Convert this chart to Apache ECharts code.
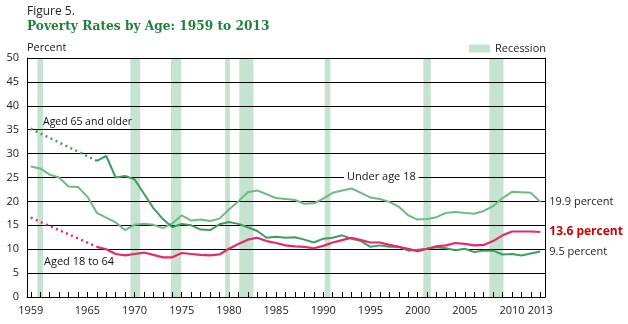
<!DOCTYPE html>
<html>
<head>
<meta charset="utf-8">
<script src="https://cdn.jsdelivr.net/npm/echarts@6/dist/echarts.min.js"></script>
<style>
  html, body { margin: 0; padding: 0; background: #fff; }
  #chart { width: 628px; height: 324px; }
</style>
</head>
<body>
<div id="chart"></div>
<script>
// Poverty rates by age group, percent
const years = [];
for (let y = 1959; y <= 2013; y++) years.push(y);

const under18 = [27.3, 26.9, 25.6, 25.0, 23.1, 23.0, 21.0, 17.6, 16.6, 15.6,
  14.0, 15.1, 15.3, 15.1, 14.4, 15.4, 17.1, 16.0, 16.2, 15.9,
  16.4, 18.3, 20.0, 21.9, 22.3, 21.5, 20.7, 20.5, 20.3, 19.5,
  19.6, 20.6, 21.8, 22.3, 22.7, 21.8, 20.8, 20.5, 19.9, 18.9,
  17.1, 16.2, 16.3, 16.7, 17.6, 17.8, 17.6, 17.4, 18.0, 19.0,
  20.7, 22.0, 21.9, 21.8, 19.9];

// Aged 65 and older: annual values from 1966, dotted estimate before
const over65Years = years.slice(7);
const over65 = [28.5, 29.5, 25.0, 25.3, 24.6, 21.6, 18.6, 16.3, 14.6, 15.3,
  15.0, 14.1, 14.0, 15.2, 15.7, 15.3, 14.6, 13.8, 12.4, 12.6,
  12.4, 12.5, 12.0, 11.4, 12.2, 12.4, 12.9, 12.2, 11.7, 10.5,
  10.8, 10.5, 10.5, 9.7, 9.9, 10.1, 10.4, 10.2, 9.8, 10.1,
  9.4, 9.7, 9.7, 8.9, 9.0, 8.7, 9.1, 9.5];
const over65Early = [[1959, 35.2], [1966, 28.5]];

// Aged 18 to 64: annual values from 1966, dotted estimate before
const age18to64Years = years.slice(7);
const age18to64 = [10.5, 10.0, 9.0, 8.7, 9.0, 9.3, 8.8, 8.3, 8.3, 9.2,
  9.0, 8.8, 8.7, 8.9, 10.1, 11.1, 12.0, 12.4, 11.7, 11.3,
  10.8, 10.6, 10.5, 10.2, 10.7, 11.4, 11.9, 12.4, 11.9, 11.4,
  11.4, 10.9, 10.5, 10.1, 9.6, 10.1, 10.6, 10.8, 11.3, 11.1,
  10.8, 10.9, 11.7, 12.9, 13.7, 13.7, 13.7, 13.6];
const age18to64Early = [[1959, 16.6], [1966, 10.5]];

// Recession periods (start, end) in fractional years
const recessions = [
  [1959.7, 1960.3], [1969.55, 1970.6], [1973.85, 1974.95], [1979.6, 1980.1],
  [1981.1, 1982.6], [1990.15, 1990.75], [2000.6, 2001.4], [2007.6, 2009.1]
];

const xLabelYears = [1959, 1965, 1970, 1975, 1980, 1985, 1990, 1995, 2000, 2005, 2010, 2013];
const yGridValues = [5, 10, 15, 20, 25, 30, 35, 40, 45, 50];

const C_UNDER18 = '#6dbb81';
const C_OVER65 = '#3f9d5e';
const C_WORK = '#e5296b';
const C_RECESSION = '#c6e3d1';
const FONT = 'Open Sans';

const zip = (xs, ys) => xs.map((x, i) => [x, ys[i]]);

const chart = echarts.init(document.getElementById('chart'), null, { renderer: 'canvas' });

// Layer 0: shading and axes; layer 1: gridlines, data lines and annotations
chart.setOption({
  animation: false,
  textStyle: { fontFamily: FONT },
  title: {
    left: 22, top: 1,
    text: 'Figure 5.',
    textStyle: { fontFamily: FONT, fontSize: 12, fontWeight: 'normal', color: '#222' },
    subtext: 'Poverty Rates by Age: 1959 to 2013',
    subtextStyle: { fontFamily: 'DejaVu Serif', fontSize: 12.2, fontWeight: 'bold', color: '#1f7f3b' },
    itemGap: 3
  },
  legend: {
    right: 77, top: 38,
    itemWidth: 21, itemHeight: 8, itemGap: 6,
    textStyle: { fontFamily: FONT, fontSize: 11, color: '#222' },
    data: [{ name: 'Recession', icon: 'rect', itemStyle: { color: C_RECESSION } }]
  },
  grid: { left: 27, right: 83, top: 58, bottom: 27, containLabel: false },
  xAxis: {
    type: 'value', min: 1958.6, max: 2013.5, zlevel: 1,
    axisLine: { show: true, lineStyle: { color: '#000', width: 1 } },
    axisTick: { show: true, inside: true, length: 5, customValues: years, lineStyle: { color: '#000' } },
    axisLabel: { customValues: xLabelYears, margin: 8, fontSize: 11, color: '#222', fontFamily: FONT,
      formatter: v => String(v) },
    splitLine: { show: false }
  },
  yAxis: [{
    type: 'value', min: 0, max: 50, interval: 5, zlevel: 1,
    name: 'Percent', nameLocation: 'end', nameGap: 5,
    nameTextStyle: { align: 'left', fontFamily: FONT, fontSize: 11, color: '#222', verticalAlign: 'bottom' },
    axisLine: { show: true, lineStyle: { color: '#000' } },
    axisTick: { show: false },
    axisLabel: { margin: 8, fontSize: 11, color: '#222', fontFamily: FONT },
    splitLine: { show: false }
  }, {
    type: 'value', position: 'right', min: 0, max: 50, interval: 5, zlevel: 1,
    axisLine: { show: true, lineStyle: { color: '#000' } },
    axisTick: { show: false }, axisLabel: { show: false }, splitLine: { show: false }
  }],
  series: [
    {
      name: 'Recession', type: 'line', data: [], zlevel: 0, z: 1,
      itemStyle: { color: C_RECESSION },
      markArea: {
        silent: true,
        itemStyle: { color: C_RECESSION },
        data: recessions.map(r => [{ xAxis: r[0] }, { xAxis: r[1] }])
      }
    },
    {
      // horizontal gridlines, drawn over the recession shading
      name: 'grid', type: 'line', data: [], zlevel: 1, z: 1,
      markLine: {
        silent: true, symbol: 'none', label: { show: false },
        lineStyle: { color: '#000', width: 1, type: 'solid' },
        data: yGridValues.map(v => ({ yAxis: v }))
      }
    },
    {
      name: 'Under age 18', type: 'line', zlevel: 1, z: 3, showSymbol: false,
      data: zip(years, under18),
      lineStyle: { color: C_UNDER18, width: 2 },
      endLabel: { show: true, distance: 9, formatter: p => p.value[1].toFixed(1) + ' percent',
        fontFamily: FONT, fontSize: 11, color: '#222' }
    },
    {
      name: 'Aged 65 and older', type: 'line', zlevel: 1, z: 3, showSymbol: false,
      data: zip(over65Years, over65),
      lineStyle: { color: C_OVER65, width: 2 },
      endLabel: { show: true, distance: 9, formatter: p => p.value[1].toFixed(1) + ' percent',
        fontFamily: FONT, fontSize: 11, color: '#222' }
    },
    {
      name: 'Aged 65 and older (est.)', type: 'line', zlevel: 1, z: 3, showSymbol: false,
      data: over65Early,
      lineStyle: { color: C_OVER65, width: 2.5, type: [2, 3.5] }
    },
    {
      name: 'Aged 18 to 64', type: 'line', zlevel: 1, z: 4, showSymbol: false,
      data: zip(age18to64Years, age18to64),
      lineStyle: { color: C_WORK, width: 2.2 },
      endLabel: { show: true, distance: 9, formatter: p => p.value[1].toFixed(1) + ' percent',
        fontFamily: FONT, fontSize: 12, fontWeight: 'bold', color: '#cc0000' }
    },
    {
      name: 'Aged 18 to 64 (est.)', type: 'line', zlevel: 1, z: 4, showSymbol: false,
      data: age18to64Early,
      lineStyle: { color: C_WORK, width: 2.5, type: [2, 3.5] }
    }
  ],
  graphic: [
    { type: 'text', left: 43, top: 117, zlevel: 1, z: 10,
      style: { text: 'Aged 65 and older', fill: '#111', font: '10.5px "Open Sans"' } },
    { type: 'text', left: 344, top: 171, zlevel: 1, z: 10,
      style: { text: 'Under age 18', fill: '#111', font: '11px "Open Sans"', backgroundColor: '#fff', padding: [0, 3] } },
    { type: 'text', left: 44, top: 256, zlevel: 1, z: 10,
      style: { text: 'Aged 18 to 64', fill: '#111', font: '11px "Open Sans"' } }
  ]
});
</script>
</body>
</html>
